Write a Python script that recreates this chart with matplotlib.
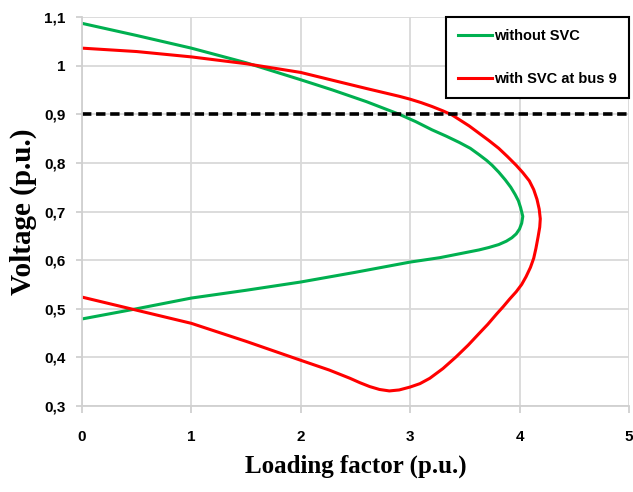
import numpy as np
import matplotlib.pyplot as plt
from matplotlib.ticker import FuncFormatter

# Curva verde: without SVC (rama superior -> nariz -> rama inferior)
sin_svc_x = [0.0, 0.5, 1.0, 1.5, 2.0, 2.29, 2.6, 2.9, 3.05, 3.2, 3.33, 3.45, 3.55, 3.63, 3.7, 3.75, 3.81, 3.87,
             3.92, 3.96, 3.99, 4.01, 4.03,
             4.02, 4.0, 3.97, 3.93, 3.88, 3.81, 3.72, 3.63, 3.54, 3.45, 3.27, 3.0, 2.5, 2.0, 1.5, 1.0, 0.5, 0.0]
sin_svc_v = [1.087, 1.062, 1.036, 1.006, 0.971, 0.950, 0.926, 0.900, 0.885, 0.868, 0.855, 0.842, 0.830, 0.817, 0.805, 0.795, 0.781, 0.765,
             0.750, 0.735, 0.722, 0.708, 0.690,
             0.676, 0.664, 0.654, 0.646, 0.639, 0.632, 0.626, 0.621, 0.617, 0.613, 0.605, 0.596, 0.575, 0.555, 0.538, 0.522, 0.500, 0.479]

# Curva roja: with SVC at bus 9
con_svc_x = [0.0, 0.5, 1.0, 1.5, 2.0, 2.29, 2.6, 2.9, 3.0, 3.1, 3.2, 3.3, 3.38, 3.45, 3.54, 3.63, 3.72, 3.81, 3.89,
             3.97, 4.03, 4.09, 4.13, 4.16, 4.18, 4.19,
             4.185, 4.17, 4.15, 4.13, 4.1, 4.06, 4.02, 3.97, 3.91, 3.85, 3.79, 3.71, 3.63, 3.53, 3.42, 3.3, 3.18, 3.09,
             3.0, 2.9, 2.81, 2.72, 2.63, 2.54, 2.45, 2.26, 2.0, 1.5, 1.0, 0.5, 0.0]
con_svc_v = [1.036, 1.029, 1.018, 1.004, 0.986, 0.970, 0.953, 0.937, 0.931, 0.924, 0.916, 0.907, 0.899, 0.889, 0.876, 0.861, 0.846, 0.830, 0.813,
             0.795, 0.780, 0.763, 0.745, 0.725, 0.705, 0.685,
             0.668, 0.648, 0.624, 0.604, 0.585, 0.566, 0.550, 0.535, 0.520, 0.504, 0.489, 0.468, 0.449, 0.425, 0.401, 0.377, 0.357, 0.346,
             0.339, 0.333, 0.331, 0.334, 0.340, 0.348, 0.357, 0.374, 0.394, 0.433, 0.470, 0.497, 0.524]

limite_v = 0.9
x_ticks = [0, 1, 2, 3, 4, 5]
y_ticks = [0.3, 0.4, 0.5, 0.6, 0.7, 0.8, 0.9, 1.0, 1.1]

fig = plt.figure(figsize=(6.33, 4.92), dpi=100)
ax = fig.add_axes([0.1295, 0.1748, 0.864, 0.7906])

ax.plot(sin_svc_x, sin_svc_v, color='#00b050', lw=2.2, label='without SVC', solid_joinstyle='round')
ax.plot(con_svc_x, con_svc_v, color='#ff0000', lw=2.2, label='with SVC at bus 9', solid_joinstyle='round')
ax.axhline(limite_v, color='black', lw=2.6, ls=(0, (2.6, 1.3)))

ax.set_xlim(0, 5)
ax.set_ylim(0.3, 1.1)
ax.set_xticks(x_ticks)
ax.set_yticks(y_ticks)

# Formato con coma decimal
def coma(v, pos):
    s = f"{v:.1f}".rstrip('0').rstrip('.')
    return s.replace('.', ',')

ax.yaxis.set_major_formatter(FuncFormatter(coma))
ax.xaxis.set_major_formatter(FuncFormatter(coma))

ax.grid(True, color='#d9d9d9', lw=1.3)
ax.set_axisbelow(True)
for lado in ['top', 'right']:
    ax.spines[lado].set_visible(False)
for lado in ['left', 'bottom']:
    ax.spines[lado].set_color('#d0d0d0')
    ax.spines[lado].set_linewidth(1.3)
ax.tick_params(axis='x', length=5, color='#d0d0d0', width=1.3, labelsize=11, pad=12)
ax.tick_params(axis='y', length=4, color='#d0d0d0', width=1.3, labelsize=11, pad=8)
for t in ax.get_xticklabels() + ax.get_yticklabels():
    t.set_fontweight('bold')
    t.set_family('Liberation Sans')

ax.set_xlabel('Loading factor (p.u.)', family='Liberation Serif', fontweight='bold', fontsize=18, labelpad=8)
ax.set_ylabel('Voltage (p.u.)', family='Liberation Serif', fontweight='bold', fontsize=21, labelpad=5)

leg = ax.legend(loc='upper right', bbox_to_anchor=(1.0, 1.0), fancybox=False, framealpha=1,
                edgecolor='black', handlelength=2.3, handletextpad=0.15, borderpad=0.85,
                labelspacing=1.95, borderaxespad=0.0,
                prop={'family': 'Liberation Sans', 'weight': 'bold', 'size': 10.5})
leg.get_frame().set_linewidth(1.5)

fig.savefig('out.png', dpi=100)
